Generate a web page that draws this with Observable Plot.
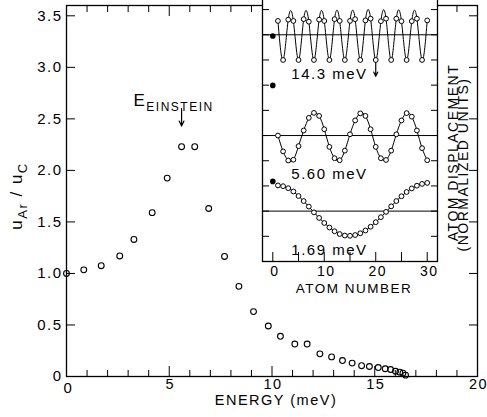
<!DOCTYPE html>
<html>
<head>
<meta charset="utf-8">
<script src="https://cdn.jsdelivr.net/npm/d3@7"></script>
<script src="https://cdn.jsdelivr.net/npm/@observablehq/plot@0.6"></script>
<style>
  body { margin: 0; background: #fff; }
  #chart { position: relative; width: 487px; height: 417px; }
  #chart svg { position: absolute; overflow: visible; }
</style>
</head>
<body>
<div id="chart"></div>
<script>
const FONT = '"Liberation Sans", Arial, Helvetica, sans-serif';

// ---- main panel: Ar / C amplitude ratio against phonon energy ----
const energy = [0, 0.84, 1.69, 2.59, 3.28, 4.17, 4.90, 5.60, 6.24, 6.92, 7.69, 8.39, 9.10, 9.82,
  10.41, 11.11, 11.71, 12.33, 12.90, 13.43, 13.90, 14.36, 14.74, 15.17, 15.51, 15.77, 16.01,
  16.22, 16.37, 16.50];
const ratio = [1.00, 1.035, 1.075, 1.17, 1.33, 1.59, 1.925, 2.23, 2.23, 1.63, 1.165, 0.875, 0.63,
  0.49, 0.39, 0.315, 0.315, 0.22, 0.19, 0.155, 0.13, 0.105, 0.097, 0.087, 0.075, 0.068, 0.051,
  0.042, 0.032, 0.013];
const energyMajor = [0, 5, 10, 15, 20];
const energyMinor = [1, 2, 3, 4, 6, 7, 8, 9, 11, 12, 13, 14, 16, 17, 18, 19];
const energyLabels = [5, 10, 15, 20];
const ratioTicks = [0, 0.5, 1, 1.5, 2, 2.5, 3, 3.5];
const einsteinEnergy = 5.6;
const einsteinArrow = [2.6, 2.43];

// ---- inset: displacement pattern along the chain for three modes ----
const atoms = [1, 2, 3, 4, 5, 6, 7, 8, 9, 10, 11, 12, 13, 14, 15, 16, 17, 18, 19, 20,
  21, 22, 23, 24, 25, 26, 27, 28, 29, 30];
const modeNames = ["14.3 meV", "5.60 meV", "1.69 meV"];
const modeBaselines = [9, 5, 2];
const mode143 = [0.55, -1.0, 0.6, 0.55, -1.0, 0.62, 0.52, -1.0, 0.6, 0.55, -1.0, 0.62, 0.55,
  -1.0, 0.55, 0.62, -1.0, 0.57, 0.64, -1.0, 0.54, 0.64, -1.0, 0.64, 0.54, -1.0, 0.54, 0.64,
  -1.0, 0.57];
const mode560 = [0.0, -0.63, -0.99, -0.96, -0.42, 0.2, 0.7, 0.9, 0.78, 0.25, -0.45, -0.9, -0.98,
  -0.6, 0.05, 0.6, 0.88, 0.78, 0.25, -0.45, -0.9, -0.97, -0.6, 0.05, 0.6, 0.89, 0.75, 0.2,
  -0.5, -0.98];
const mode169 = [1.02, 0.99, 0.91, 0.78, 0.60, 0.40, 0.18, -0.05, -0.27, -0.47, -0.65, -0.80,
  -0.91, -0.97, -0.98, -0.95, -0.88, -0.77, -0.62, -0.44, -0.24, -0.03, 0.19, 0.40, 0.59,
  0.76, 0.90, 1.01, 1.08, 1.12];
const arDisplacement = [-0.05, 1.99, 1.18];
const atomTicks = [0, 5, 10, 15, 20, 25, 30];
const atomLabels = [0, 10, 20, 30];
const levelTicks = [1, 2, 3, 4, 5, 6, 7, 8, 9, 10];
const markedAtom = 20;              // arrow under this atom of the 14.3 meV mode
const markedArrow = [-1.1, -1.65];

const spectrum = energy.map((e, i) => ({energy: e, ratio: ratio[i]}));
const modeValues = [mode143, mode560, mode169];
const chain = modeNames.flatMap((name, m) =>
  atoms.map((a, i) => ({mode: name, atom: a, level: modeBaselines[m] + modeValues[m][i]})));
const argon = modeNames.map((name, m) => ({mode: name, atom: 0, level: modeBaselines[m] + arDisplacement[m]}));

const textStyle = {fontFamily: FONT, fontSize: "15px", letterSpacing: "1.5px", color: "black", overflow: "visible"};
const noText = () => "";

const main = Plot.plot({
  width: 487, height: 417,
  marginLeft: 66, marginRight: 10, marginTop: 5, marginBottom: 41,
  x: {domain: [0, 20]},
  y: {domain: [0, 3.6]},
  style: {...textStyle, background: "white"},
  marks: [
    Plot.frame({stroke: "black", strokeWidth: 1.3}),
    // inward-pointing ticks on all four sides
    Plot.axisX({anchor: "bottom", ticks: energyMajor, tickSize: 10, insetBottom: 10, tickFormat: noText, label: null}),
    Plot.axisX({anchor: "bottom", ticks: energyMinor, tickSize: 6, insetBottom: 6, tickFormat: noText, label: null}),
    Plot.axisX({anchor: "top", ticks: energyMajor, tickSize: 10, insetTop: 10, tickFormat: noText, label: null}),
    Plot.axisX({anchor: "top", ticks: energyMinor, tickSize: 6, insetTop: 6, tickFormat: noText, label: null}),
    Plot.axisY({anchor: "left", ticks: ratioTicks, tickSize: 9, insetLeft: 9, tickFormat: noText, label: null}),
    Plot.axisY({anchor: "right", ticks: ratioTicks, tickSize: 9, insetRight: 9, tickFormat: noText, label: null}),
    // tick labels
    Plot.axisX({anchor: "bottom", ticks: energyLabels, tickSize: 0, tickPadding: 2, dx: 1, fontSize: 14.5,
      tickFormat: d => String(d), label: null}),
    Plot.axisX({anchor: "bottom", ticks: [0], tickSize: 0, tickPadding: 6, dx: 2, tickFormat: d => String(d), label: null}),
    Plot.axisY({anchor: "left", ticks: ratioTicks, tickSize: 0, tickPadding: 4,
      tickFormat: d => d === 0 ? "0" : d.toFixed(1), label: null}),
    // axis titles
    Plot.text(["ENERGY (meV)"], {frameAnchor: "bottom", dy: 28, dx: 4, fontSize: 14.5}),
    Plot.text(["uAr / uC"], {frameAnchor: "left", textAnchor: "middle", rotate: -90, dx: -50, dy: 5, fontSize: 17}),
    // data
    Plot.dot(spectrum, {x: "energy", y: "ratio", r: 2.9, stroke: "black", strokeWidth: 1.1, fill: "none"}),
    // Einstein frequency marker
    Plot.arrow([einsteinEnergy], {x1: d => d, x2: d => d, y1: einsteinArrow[0], y2: einsteinArrow[1],
      stroke: "black", strokeWidth: 1.2, headLength: 7, headAngle: 50}),
    Plot.text([einsteinEnergy], {x: d => d, y: einsteinArrow[0], text: () => "EEINSTEIN",
      lineAnchor: "bottom", dy: -3, dx: -8, fontSize: 17})
  ]
});

const inset = Plot.plot({
  width: 230, height: 303,
  marginLeft: 12, marginRight: 43, marginTop: 0, marginBottom: 39,
  x: {domain: [-2, 32]},
  y: {domain: [0, 10.48]},
  style: {...textStyle, background: "transparent"},
  marks: [
    Plot.frame({fill: "white", stroke: "black", strokeWidth: 1.3}),
    Plot.axisX({anchor: "bottom", ticks: atomTicks, tickSize: 9, insetBottom: 9, tickFormat: noText, label: null}),
    Plot.axisY({anchor: "left", ticks: levelTicks, tickSize: 7, insetLeft: 7, tickFormat: noText, label: null}),
    Plot.axisY({anchor: "right", ticks: levelTicks, tickSize: 7, insetRight: 7, tickFormat: noText, label: null}),
    Plot.axisX({anchor: "bottom", ticks: atomLabels, tickSize: 0, tickPadding: 5, dx: 2, fontSize: 14,
      tickFormat: d => String(d), label: null}),
    Plot.text(["ATOM NUMBER"], {frameAnchor: "bottom", dy: 31, dx: 4, fontSize: 13.5}),
    Plot.text(["ATOM DISPLACEMENT"], {frameAnchor: "right", textAnchor: "middle", rotate: -90, dx: 16, dy: 23, fontSize: 14}),
    Plot.text(["(NORMALIZED UNITS)"], {frameAnchor: "right", textAnchor: "middle", rotate: -90, dx: 26, dy: 35, fontSize: 14}),
    // zero line of each mode
    Plot.ruleY(modeBaselines, {stroke: "black", strokeWidth: 1}),
    Plot.line(chain, {x: "atom", y: "level", z: "mode", curve: "natural", stroke: "black", strokeWidth: 1}),
    Plot.dot(chain, {x: "atom", y: "level", r: 2.4, stroke: "black", strokeWidth: 1, fill: "white"}),
    Plot.dot(argon, {x: "atom", y: "level", r: 2.8, fill: "black"}),
    Plot.text(modeNames, {x: 11, y: (d, i) => modeBaselines[i] - 1.55, text: d => d}),
    Plot.arrow([markedAtom], {x1: d => d, x2: d => d, y1: modeBaselines[0] + markedArrow[0],
      y2: modeBaselines[0] + markedArrow[1], stroke: "black", strokeWidth: 1.2, headLength: 6, headAngle: 50})
  ]
});

// split composite labels into tspans with subscripts
function subscript(svg, full, parts, subSize, shift) {
  d3.select(svg).selectAll("text").filter(function() { return this.textContent === full; })
    .each(function() {
      const t = d3.select(this).text(null);
      let down = false;
      for (const [s, sub] of parts) {
        const ts = t.append("tspan").text(s);
        if (sub) ts.attr("font-size", subSize);
        if (sub && !down) { ts.attr("dy", shift); down = true; }
        else if (!sub && down) { ts.attr("dy", -shift); down = false; }
      }
    });
}
subscript(main, "uAr / uC", [["u", false], ["Ar", true], [" / u", false], ["C", true]], 13, 5);
subscript(main, "EEINSTEIN", [["E", false], ["EINSTEIN", true]], 12, 5);

main.style.left = "0px"; main.style.top = "0px";
inset.style.left = "250px"; inset.style.top = "-3px";
document.getElementById("chart").append(main, inset);
</script>
</body>
</html>
